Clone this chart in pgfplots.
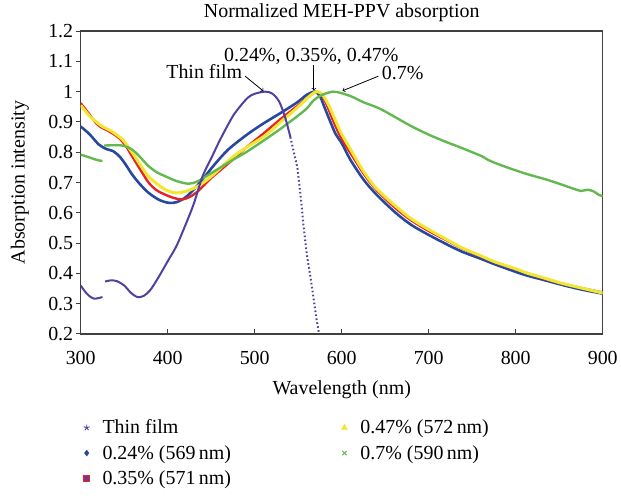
\documentclass[border=0pt]{standalone}
\usepackage{pgfplots}
\pgfplotsset{compat=1.18}
\usepackage{fontspec}
\setmainfont{Liberation Serif}

\definecolor{cfilm}{RGB}{80,64,160}
\definecolor{cblue}{RGB}{40,72,160}
\definecolor{cred}{RGB}{232,32,40}
\definecolor{cyel}{RGB}{240,232,48}
\definecolor{cgreen}{RGB}{100,184,80}
\definecolor{caxis}{RGB}{64,64,64}

\begin{document}
\begin{tikzpicture}
\begin{axis}[
    scale only axis,
    width=524pt, height=304pt,
    xmin=300, xmax=900, ymin=0.2, ymax=1.2,
    xtick={300,400,...,900},
    ytick={0.2,0.3,...,1.2},
    yticklabels={0.2,0.3,0.4,0.5,0.6,0.7,0.8,0.9,1,1.1,1.2},
    xtick pos=bottom, ytick pos=left,
    xtick align=inside, ytick align=outside,
    major tick length=5pt,
    axis line style={caxis, line width=1.2pt},
    tick style={caxis, line width=1pt},
    /pgf/number format/assume math mode=true,
    ticklabel style={font=\fontsize{20}{20}\selectfont},
    xticklabel style={anchor=base, yshift=-31pt},
    yticklabel style={xshift=1pt},
    label style={font=\fontsize{20}{20}\selectfont},
    xlabel={Wavelength (nm)},
    ylabel={Absorption intensity},
    xlabel style={at={(axis description cs:0.5,-0.2)}, anchor=base},
    ylabel style={at={(axis description cs:-0.1164,0.5)}, anchor=center},
    title={Normalized MEH-PPV absorption},
    title style={font=\fontsize{20}{20}\selectfont, at={(axis description cs:0.5,1)}, anchor=base, yshift=8pt},
    clip=true,
    legend columns=2,
    legend cell align=left,
    legend style={draw=none, fill=none, at={(axis description cs:0.0,-0.27)}, anchor=north west,
        font=\fontsize{20}{20}\selectfont, row sep=6pt,
        /tikz/column 1/.style={column sep=11pt},
        /tikz/column 2/.style={column sep=109pt},
        /tikz/column 3/.style={column sep=11pt}},
    every axis plot/.append style={line join=round},
]

% legend entries (column order as in the reference)
\addlegendimage{only marks, mark=star, color=cfilm, mark size=3pt, line width=0.9pt}
\addlegendentry{Thin film}
\addlegendimage{only marks, mark=triangle*, color=cyel, mark size=3.5pt}
\addlegendentry{0.47\% (572\,nm)}
\addlegendimage{only marks, mark=diamond*, color=cblue, mark size=3pt}
\addlegendentry{0.24\% (569\,nm)}
\addlegendimage{only marks, mark=x, color=cgreen, mark size=3pt, line width=1pt}
\addlegendentry{0.7\% (590\,nm)}
\addlegendimage{only marks, mark=square*, color=cred, mark size=2.8pt,
    mark options={draw=cred, fill=cfilm!75!cred, line width=1pt}}
\addlegendentry{0.35\% (571\,nm)}

% 0.24 %
\addplot[forget plot, color=cblue, line width=2.6pt, smooth] coordinates {
(300,0.885)(310,0.86)(321,0.825)(330,0.81)(337,0.804)(345,0.785)(352,0.758)
(359,0.727)(368,0.695)(378,0.666)(390,0.643)(401,0.633)(410,0.635)(420,0.65)
(430,0.677)(440,0.71)(454,0.76)(470,0.81)(492,0.86)(510,0.895)(530,0.93)
(549,0.965)(560,0.99)(569,1.0)(575,0.985)(580,0.95)(587,0.9)(593,0.86)
(600,0.83)(610,0.775)(625,0.71)(640,0.66)(662,0.60)(680,0.56)(700,0.527)
(720,0.497)(738,0.472)(760,0.448)(776,0.43)(800,0.405)(814,0.392)(830,0.38)
(852,0.363)(875,0.347)(900,0.333)
};

% 0.35 %
\addplot[forget plot, color=cred, line width=2.4pt, smooth] coordinates {
(300,0.962)(310,0.925)(318,0.895)(325,0.88)(332,0.87)(344,0.847)(352,0.82)
(359,0.787)(368,0.745)(378,0.70)(387,0.675)(397,0.66)(406,0.65)(416,0.644)
(425,0.652)(435,0.672)(450,0.715)(473,0.771)(490,0.815)(511,0.864)(530,0.91)
(550,0.955)(565,0.99)(571,1.0)(577,0.99)(583,0.955)(590,0.905)(597,0.86)
(605,0.82)(615,0.775)(625,0.73)(640,0.675)(662,0.615)(680,0.575)(700,0.54)
(720,0.51)(738,0.483)(760,0.456)(776,0.437)(800,0.413)(814,0.40)(830,0.385)
(852,0.367)(875,0.352)(900,0.337)
};

% 0.47 %
\addplot[forget plot, color=cyel, line width=3pt, smooth] coordinates {
(300,0.955)(310,0.92)(318,0.9)(325,0.885)(335,0.87)(348,0.842)(359,0.80)
(368,0.76)(378,0.72)(388,0.695)(397,0.677)(405,0.668)(412,0.666)(422,0.672)
(435,0.688)(450,0.72)(473,0.78)(490,0.815)(511,0.853)(530,0.9)(550,0.95)
(565,0.99)(572,1.0)(578,0.99)(585,0.955)(592,0.91)(599,0.865)(607,0.825)
(616,0.78)(625,0.737)(640,0.68)(662,0.622)(680,0.58)(700,0.545)(720,0.513)
(738,0.485)(760,0.458)(776,0.438)(800,0.415)(814,0.40)(830,0.387)(852,0.368)
(875,0.352)(900,0.335)
};

% 0.7 %
\addplot[forget plot, color=cgreen, line width=2.4pt, smooth] coordinates {
(300,0.792)(310,0.783)(318,0.775)(325,0.771)
};
\addplot[forget plot, color=cgreen, line width=2.4pt, smooth] coordinates {
(327,0.822)(335,0.823)(348,0.822)(359,0.809)(368,0.785)(378,0.754)(388,0.733)
(397,0.721)(410,0.705)(424,0.696)(435,0.705)(454,0.738)(475,0.775)(490,0.80)
(511,0.84)(530,0.878)(549,0.919)(560,0.945)(568,0.972)(578,0.99)(590,1.0)
(600,0.995)(612,0.983)(625,0.965)(643,0.945)(662,0.915)(680,0.886)(700,0.858)
(720,0.834)(738,0.814)(750,0.80)(761,0.787)(768,0.775)(776,0.765)(795,0.745)
(814,0.727)(835,0.71)(852,0.694)(870,0.676)(875,0.672)(883,0.676)(890,0.67)
(895,0.66)(900,0.655)
};

% thin film
\addplot[forget plot, color=cfilm, line width=2pt, smooth] coordinates {
(300,0.36)(305,0.34)(310,0.325)(315,0.317)(320,0.318)(325,0.322)
};
\addplot[forget plot, color=cfilm, line width=2pt, smooth] coordinates {
(328,0.373)(335,0.377)(342,0.374)(350,0.36)(358,0.335)(365,0.322)(372,0.325)
(380,0.345)(390,0.39)(400,0.44)(410,0.49)(420,0.557)(430,0.63)(440,0.72)
(450,0.78)(460,0.84)(473,0.91)(480,0.94)(492,0.98)(500,0.993)(512,1.0)
(520,0.994)(528,0.968)(535,0.915)(541,0.85)
};
\addplot[forget plot, color=cfilm, line width=2pt, dash pattern=on 1.6pt off 2.4pt] coordinates {
(541,0.85)(545,0.80)(549,0.75)(553,0.65)(556,0.56)(560,0.46)(564,0.39)
(568,0.31)(571,0.25)(574,0.2)
};

% annotations
\node[font=\fontsize{20}{20}\selectfont, anchor=base] at (axis cs:442,1.045) {Thin film};
\draw[->, line width=0.8pt] (axis cs:489,1.051) -- (axis cs:510,1.002);
\node[font=\fontsize{20}{20}\selectfont, anchor=base] at (axis cs:565,1.101) {0.24\%, 0.35\%, 0.47\%};
\draw[->, line width=0.8pt] (axis cs:568,1.088) -- (axis cs:568,1.004);
\node[font=\fontsize{20}{20}\selectfont, anchor=base] at (axis cs:670,1.039) {0.7\%};
\draw[->, line width=0.8pt] (axis cs:642,1.051) -- (axis cs:601,1.003);

\end{axis}
\path (current axis.south west) ++(-81pt,-162pt);
\path (current axis.north east) ++(16pt,28pt);
\end{tikzpicture}
\end{document}
